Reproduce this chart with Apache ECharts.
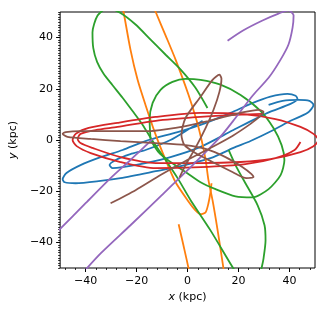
<!DOCTYPE html>
<html><head><meta charset="utf-8">
<script src="https://cdn.jsdelivr.net/npm/echarts@6/dist/echarts.min.js"></script>
<style>html,body{margin:0;padding:0;background:#fff}#c{width:328px;height:314px}</style>
</head><body><div id="c"></div>
<script>
// ---- tick labels ----
var xMajor = [-40, -20, 0, 20, 40];
var yMajor = [-40, -20, 0, 20, 40];

// ---- orbit tracks (x kpc, y kpc) ----
var blueOrbit = [[31.8,13.7],[37.3,15.3],[43.5,15.7],[47.8,15.3],[49.4,13.7],[47.1,10.6],[40.4,7.5],[33.7,3.9],[24.7,-0.4],[18.0,-3.1],[9.0,-7.1],[-2.7,-10.2],[-12.5,-12.2],[-26.3,-14.9],[-34.9,-16.1],[-43.9,-16.9],[-48.2,-16.5],[-49.0,-15.3],[-47.5,-12.9],[-42.0,-9.8],[-34.1,-6.7],[-25.5,-3.9],[-16.5,-0.4],[-3.9,3.1],[5.1,5.9],[16.9,10.6],[24.7,14.1],[32.5,16.9],[39.2,18.0],[42.4,17.3],[43.1,16.1],[40.4,14.1],[31.4,10.6],[18.0,3.9],[5.1,-2.7],[-6.7,-6.7],[-16.5,-9.0],[-25.5,-10.6],[-29.4,-11.0],[-30.6,-9.8],[-28.2,-7.8],[-22.4,-5.5],[-16.5,-3.9],[-6.7,0],[1.2,4.7],[5.9,7.5]];

var orangeA = [[-25.9,53.7],[-25.1,50.0],[-22.4,35.3],[-19.6,23.5],[-16.5,13.7],[-12.5,2.0],[-8.6,-7.8],[-4.7,-16.5],[0,-23.5],[3.1,-27.5],[5.1,-29.0],[7.1,-28.2],[8.2,-24.7],[9.0,-20.4],[9.4,-16.9]];
var orangeB = [[-14.5,54.9],[-12.5,50.0],[-8.6,40.8],[-4.7,31.4],[0.4,17.6],[3.5,7.8],[5.5,0],[7.1,-7.8],[8.2,-15.7],[9.8,-23.5],[11.8,-35.3],[14.1,-50.2],[14.5,-52.9]];
var orangeC = [[-3.5,-32.9],[-1.6,-41.2],[0.4,-50.2],[0.8,-52.9]];

var greenA = [[7.8,12.5],[3.1,20.4],[-2.7,27.5],[-8.6,33.3],[-14.5,39.2],[-20.4,45.1],[-26.3,49.6],[-31.4,51.5],[-35.3,48.6],[-37.3,42.0],[-37.0,36.0],[-35.5,30.5],[-33.0,26.0],[-29.5,21.5],[-25.5,16.5],[-21.5,11.2],[-17.6,5.9],[-13.7,-0.4],[-8.6,-7.8],[-3.9,-14.9],[1.2,-23.5],[9.0,-35.3],[18.0,-50.2],[20.0,-52.9]];
var greenB = [[-14.5,0],[-14.9,7.8],[-13.7,14.5],[-10.6,19.6],[-5.9,22.7],[-0.8,23.9],[5.1,23.5],[12.9,21.6],[20.8,17.6],[28.6,11.4],[33.7,4.7],[36.9,-2.0],[38.0,-7.8],[36.5,-13.7],[31.8,-19.2],[25.5,-22.4],[18.8,-22.0],[11.0,-19.2],[5.1,-16.5],[-0.8,-12.5],[-6.7,-8.6],[-11.4,-4.7],[-14.5,0]];
var greenC = [[16.1,-3.9],[18.8,-9.8],[22.7,-16.9],[27.5,-25.5],[30.2,-33.3],[30.6,-39.2],[29.8,-46.3],[29.0,-50.2],[28.2,-54.1]];

var redOrbit = [[44.3,-0.8],[42.0,-3.9],[34.5,-7.1],[22.7,-9.4],[5.1,-10.6],[-12.5,-11.0],[-26.3,-8.6],[-38.0,-5.1],[-43.5,-2.4],[-45.1,0],[-43.9,2.4],[-38.8,4.7],[-27.5,6.7],[-12.5,9.0],[5.1,10.6],[20.8,10.2],[34.5,8.2],[44.3,5.1],[49.4,2.4],[51.4,0],[49.4,-2.4],[44.3,-4.7],[32.5,-7.5],[20.8,-8.6],[5.1,-9.0],[-12.5,-9.0],[-26.3,-6.7],[-37.3,-3.1],[-42.0,-1.2],[-43.1,0.4],[-42.0,2.4],[-36.1,3.9],[-27.5,5.1],[-12.5,7.5],[5.1,9.0],[18.8,9.8],[29.4,10.2]];

var purpleA = [[-13.7,0.4],[-22.4,-7.8],[-30.2,-14.9],[-40.0,-24.7],[-49.8,-34.5],[-53.7,-38.4]];
var purpleB = [[15.7,38.8],[21.6,42.7],[29.4,46.7],[35.7,49.4],[39.6,50.6],[41.6,48.6],[41.2,43.9],[39.6,37.3],[36.5,31.4],[31.8,24.3],[25.5,17.3],[18.8,8.6],[12.5,0.8],[0,-11.8],[-10.6,-22.0],[-22.4,-33.3],[-34.1,-44.3],[-42.0,-52.9]];

var brownOrbit = [[-30.2,-24.7],[-20.4,-19.6],[-10.6,-13.7],[-0.8,-8.2],[9.0,-3.1],[17.6,1.6],[24.7,6.3],[28.6,9.4],[29.8,11.0],[27.8,11.8],[20.8,10.6],[12.9,8.6],[5.1,6.7],[-4.7,4.7],[-14.5,3.5],[-30.2,3.5],[-42.0,3.5],[-47.8,3.1],[-49.0,2.4],[-47.1,1.2],[-38.0,0.4],[-26.3,-0.4],[-12.5,-1.2],[-0.8,-2.0],[7.1,-3.5],[14.9,-6.7],[21.6,-10.6],[25.1,-13.3],[25.9,-14.5],[23.1,-14.9],[17.6,-12.5],[9.8,-8.6],[3.1,-5.1],[-1.2,-2.0],[-2.4,2.0],[-0.8,8.6],[5.1,16.9],[9.8,23.5],[12.5,25.5],[13.3,23.9],[12.5,18.8],[10.2,11.8],[7.1,4.7],[3.1,-3.1],[-0.8,-9.8],[-3.1,-14.5]];

// ---- minor tick positions ----
var xMinor = [], yMinor = [];
for (var v = -48; v <= 48; v += 4) if (v % 20 !== 0) xMinor.push(v);
for (var w = -50; w <= 50; w += 1) if (w % 20 !== 0) yMinor.push(w);

var FONT = 'DejaVu Sans';
function fmt(v){ return v < 0 ? '\u2212' + Math.abs(v) : String(v); }

var C = {blue:'#1f77b4', orange:'#ff7f0e', green:'#2ca02c', red:'#d62728', purple:'#9467bd', brown:'#8c564b'};
function line(data, color){
  return {type:'line', data:data, showSymbol:false, smooth:0.25, clip:true,
    lineStyle:{color:color, width:1.8}, itemStyle:{color:color}, z:2, animation:false, silent:true};
}
var noLine = {show:false, onZero:false};

var chart = echarts.init(document.getElementById('c'), null, {renderer:'canvas'});
chart.setOption({
  animation:false,
  backgroundColor:'#fff',
  grid:{left:59, top:12, width:256, height:256, show:true, borderColor:'#000', borderWidth:1, backgroundColor:'#fff', containLabel:false},
  xAxis:[
    {type:'value', min:-50, max:50, position:'bottom',
     axisLine:noLine, splitLine:{show:false},
     axisTick:{show:true, customValues:xMajor, length:4, lineStyle:{color:'#000', width:1}},
     axisLabel:{customValues:xMajor, formatter:fmt, fontSize:11, color:'#000', fontFamily:FONT, margin:8},
     name:'{i|x} (kpc)', nameLocation:'middle', nameGap:24,
     nameTextStyle:{fontSize:11, color:'#000', fontFamily:FONT, rich:{i:{fontStyle:'italic', fontSize:11, fontFamily:FONT, color:'#000'}}}},
    {type:'value', min:-50, max:50, position:'bottom',
     axisLine:noLine, splitLine:{show:false}, axisLabel:{show:false},
     axisTick:{show:true, customValues:xMinor, length:2, lineStyle:{color:'#000', width:0.8}}}
  ],
  yAxis:[
    {type:'value', min:-50, max:50, position:'left',
     axisLine:noLine, splitLine:{show:false},
     axisTick:{show:true, customValues:yMajor, length:4, lineStyle:{color:'#000', width:1}},
     axisLabel:{customValues:yMajor, formatter:fmt, fontSize:11, color:'#000', fontFamily:FONT, margin:7},
     name:'{i|y} (kpc)', nameLocation:'middle', nameGap:31, nameRotate:90,
     nameTextStyle:{fontSize:11, color:'#000', fontFamily:FONT, rich:{i:{fontStyle:'italic', fontSize:11, fontFamily:FONT, color:'#000'}}}},
    {type:'value', min:-50, max:50, position:'left',
     axisLine:noLine, splitLine:{show:false}, axisLabel:{show:false},
     axisTick:{show:true, customValues:yMinor, length:2, lineStyle:{color:'#000', width:0.8}}}
  ],
  series:[
    line(blueOrbit, C.blue),
    line(orangeA, C.orange), line(orangeB, C.orange), line(orangeC, C.orange),
    line(greenA, C.green), line(greenB, C.green), line(greenC, C.green),
    line(redOrbit, C.red),
    line(purpleA, C.purple), line(purpleB, C.purple),
    line(brownOrbit, C.brown)
  ]
});
</script></body></html>
